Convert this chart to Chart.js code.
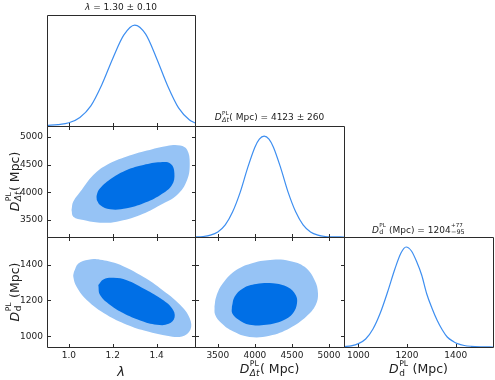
<!DOCTYPE html>
<html><head><meta charset="utf-8">
<script src="https://cdn.jsdelivr.net/npm/chart.js@4.4.1/dist/chart.umd.min.js"></script>
<style>
html,body{margin:0;padding:0;background:#fff;}
#fig{position:relative;width:495px;height:380px;overflow:hidden;}
#fig canvas{position:absolute;left:0;top:0;}
</style></head><body>
<div id="fig"></div>
<script>
// ---------------- data ----------------
const lambdaTicks = [1.0, 1.2, 1.4];
const dtTicks = [3500, 4000, 4500, 5000];
const ddTicks = [1000, 1200, 1400];
const lambdaRange = [0.9, 1.575];
const dtRange = [3192, 5202];
const ddRange = [941, 1553];
const histRange = [0, 1.1];

// 1D marginals
const histLambdaX = [0.90, 0.95, 1.00, 1.05, 1.10, 1.15, 1.20, 1.25, 1.30, 1.35, 1.40, 1.45, 1.50, 1.55, 1.575];
const histLambdaY = [0.006, 0.014, 0.032, 0.085, 0.20, 0.41, 0.67, 0.90, 1.00, 0.91, 0.67, 0.40, 0.18, 0.06, 0.03];
const histDtX = [3192, 3300, 3400, 3500, 3600, 3700, 3800, 3900, 4000, 4060, 4125, 4190, 4250, 4350, 4450, 4550, 4650, 4750, 4850, 4950, 5050, 5202];
const histDtY = [0.001, 0.005, 0.018, 0.05, 0.12, 0.25, 0.44, 0.68, 0.89, 0.97, 1.00, 0.97, 0.89, 0.68, 0.44, 0.25, 0.12, 0.05, 0.018, 0.005, 0.0015, 0.0];
const histDdX = [941, 970, 1000, 1030, 1060, 1090, 1120, 1150, 1175, 1196, 1218, 1240, 1260, 1281, 1302, 1323, 1345, 1365, 1390, 1407, 1435, 1463, 1510, 1553];
const histDdY = [0.004, 0.012, 0.034, 0.08, 0.18, 0.34, 0.55, 0.78, 0.94, 1.00, 0.96, 0.85, 0.72, 0.53, 0.39, 0.27, 0.17, 0.10, 0.055, 0.034, 0.015, 0.007, 0.002, 0.0];

// 2D contours (68% inner, 95% outer)
const lamDtOuter = [[1.012,3681],[1.020,3560],[1.066,3500],[1.142,3452],[1.218,3470],[1.325,3591],[1.417,3772],[1.493,3953],[1.539,4226],[1.551,4528],[1.539,4770],[1.508,4848],[1.447,4842],[1.356,4758],[1.264,4649],[1.172,4498],[1.111,4316],[1.058,4044],[1.020,3833]];
const lamDtInner = [[1.127,3863],[1.142,3772],[1.188,3693],[1.264,3712],[1.340,3802],[1.417,3953],[1.470,4135],[1.481,4347],[1.465,4516],[1.417,4546],[1.340,4498],[1.264,4407],[1.195,4256],[1.142,4074],[1.127,3953]];
const lamDdOuter = [[1.023,1359],[1.043,1405],[1.089,1427],[1.142,1427],[1.218,1405],[1.325,1341],[1.417,1267],[1.508,1175],[1.551,1101],[1.554,1037],[1.516,1000],[1.447,1004],[1.356,1028],[1.264,1065],[1.172,1120],[1.081,1203],[1.035,1276],[1.020,1332]];
const lamDdInner = [[1.134,1286],[1.157,1317],[1.203,1326],[1.264,1313],[1.340,1267],[1.417,1212],[1.470,1157],[1.482,1107],[1.455,1070],[1.401,1065],[1.325,1089],[1.249,1129],[1.188,1175],[1.142,1230]];
const dtDdOuter = [[3455,1166],[3478,1221],[3568,1295],[3748,1369],[3973,1409],[4243,1427],[4469,1420],[4671,1387],[4806,1313],[4851,1240],[4820,1175],[4694,1111],[4469,1046],[4198,1004],[3928,997],[3703,1028],[3546,1074],[3464,1120]];
const dtDdInner = [[3690,1166],[3726,1221],[3838,1267],[4018,1291],[4243,1295],[4446,1273],[4550,1230],[4568,1184],[4514,1129],[4379,1089],[4153,1065],[3928,1065],[3771,1096],[3694,1129]];

// texts
const titleLambda = [{t:'λ', it:true}, {t:' = 1.30 ± 0.10'}];
const titleDt = [{t:'D', it:true}, {sup:'PL', sub:'Δt', subIt:true}, {t:'( Mpc) = 4123 ± 260'}];
const titleDd = [{t:'D', it:true}, {sup:'PL', sub:'d'}, {t:' (Mpc) = 1204'}, {sup:'+77', sub:'−95'}];
const labelLambda = [{t:'λ', it:true}];
const labelDt = [{t:'D', it:true}, {sup:'PL', sub:'Δt', subIt:true}, {t:'( Mpc)'}];
const labelDd = [{t:'D', it:true}, {sup:'PL', sub:'d'}, {t:' (Mpc)'}];

// ---------------- layout / style ----------------
const W = 495, H = 380;
const COLS = [47, 195, 344, 493];
const ROWS = [15, 126, 237, 347];
const C_LINE = '#3d8ef0', C_DARK = '#006fe6', C_LIGHT = '#96c3f5', C_AX = '#2b2b2b', C_TXT = '#222222';
const FAM = '"DejaVu Sans"';
Chart.defaults.font.family = FAM;
Chart.defaults.font.size = 9;
Chart.defaults.color = C_TXT;

const zipXY = (xs, ys) => xs.map((x, i) => ({x: x, y: ys[i]}));
const polyPts = arr => arr.concat([arr[0]]).map(p => ({x: p[0], y: p[1]}));

function F(it, s) { return (it ? 'italic ' : '') + s + 'px ' + FAM; }
function drawRich(ctx, segs, x, y, size) {
  const supS = size * 0.62, subS = size * 0.72;
  const items = segs.map(sg => {
    if (sg.t !== undefined) { ctx.font = F(sg.it, size); return {sg, w: ctx.measureText(sg.t).width}; }
    ctx.font = F(false, supS); const w1 = ctx.measureText(sg.sup).width;
    ctx.font = F(sg.subIt, subS); const w2 = ctx.measureText(sg.sub).width;
    return {sg, w: Math.max(w1, w2) + size * 0.08};
  });
  const total = items.reduce((a, b) => a + b.w, 0);
  let cx = x - total / 2;
  ctx.fillStyle = C_TXT; ctx.textAlign = 'left'; ctx.textBaseline = 'alphabetic';
  items.forEach(({sg, w}) => {
    if (sg.t !== undefined) { ctx.font = F(sg.it, size); ctx.fillText(sg.t, cx, y); }
    else {
      ctx.font = F(false, supS); ctx.fillText(sg.sup, cx + size * 0.04, y - size * 0.58);
      ctx.font = F(sg.subIt, subS); ctx.fillText(sg.sub, cx + size * 0.04, y + size * 0.22);
    }
    cx += w;
  });
}

function framePlugin(p) {
  return {
    id: 'frame',
    afterDraw(chart) {
      const ctx = chart.ctx, a = chart.chartArea;
      const xs = chart.scales.x, ys = chart.scales.y;
      const L = Math.round(a.left) + 0.5, R = Math.round(a.right) + 0.5;
      const T = Math.round(a.top) + 0.5, B = Math.round(a.bottom) + 0.5;
      const tl = 3.5;
      ctx.save();
      ctx.strokeStyle = C_AX; ctx.lineWidth = 1;
      ctx.beginPath();
      ctx.rect(L, T, R - L, B - T);
      p.xt.forEach(v => {
        const px = Math.round(xs.getPixelForValue(v)) + 0.5;
        ctx.moveTo(px, B); ctx.lineTo(px, B - tl);
        if (!p.hist) { ctx.moveTo(px, T); ctx.lineTo(px, T + tl); }
      });
      if (!p.hist) p.yt.forEach(v => {
        const py = Math.round(ys.getPixelForValue(v)) + 0.5;
        ctx.moveTo(L, py); ctx.lineTo(L + tl, py);
        ctx.moveTo(R, py); ctx.lineTo(R - tl, py);
      });
      ctx.stroke();
      if (p.text) p.text(ctx);
      ctx.restore();
    }
  };
}

// axis: when shown, the scale box fills the whole margin so labels are not clipped
function axis(pos, range, ticks, show, fmt, size) {
  return {
    type: 'linear', position: pos, min: range[0], max: range[1], display: show,
    grid: {display: false, drawTicks: false}, border: {display: false},
    ticks: {display: show, padding: pos === 'bottom' ? 3 : 4, autoSkip: false, maxRotation: 0,
            font: {size: 9, family: FAM}, color: C_TXT, callback: v => fmt(v)},
    afterBuildTicks: s => { s.ticks = ticks.map(v => ({value: v})); },
    afterFit: s => { const v = show ? size : 0; if (pos === 'bottom') s.height = v; else s.width = v; }
  };
}

const fmt1 = v => Number(v).toFixed(1);
const fmt0 = v => String(Math.round(v));

function histSet(data) {
  return {data, showLine: true, borderColor: C_LINE, borderWidth: 1.2, pointRadius: 0,
          cubicInterpolationMode: 'monotone', fill: false};
}
function contSets(inner, outer) {
  return [
    {data: polyPts(inner), showLine: true, borderWidth: 0, borderColor: 'rgba(0,0,0,0)', backgroundColor: C_DARK, fill: 'shape', pointRadius: 0, tension: 0.4},
    {data: polyPts(outer), showLine: true, borderWidth: 0, borderColor: 'rgba(0,0,0,0)', backgroundColor: C_LIGHT, fill: 'shape', pointRadius: 0, tension: 0.4}
  ];
}

const panels = [
  {c: 0, r: 0, hist: true, xr: lambdaRange, yr: histRange, xt: lambdaTicks, yt: [], xs: false, ysh: false, xf: fmt1, yf: fmt0,
   ds: [histSet(zipXY(histLambdaX, histLambdaY))]},
  {c: 0, r: 1, hist: false, xr: lambdaRange, yr: dtRange, xt: lambdaTicks, yt: dtTicks, xs: false, ysh: true, xf: fmt1, yf: fmt0,
   ds: contSets(lamDtInner, lamDtOuter)},
  {c: 1, r: 1, hist: true, xr: dtRange, yr: histRange, xt: dtTicks, yt: [], xs: false, ysh: false, xf: fmt0, yf: fmt0,
   ds: [histSet(zipXY(histDtX, histDtY))]},
  {c: 0, r: 2, hist: false, xr: lambdaRange, yr: ddRange, xt: lambdaTicks, yt: ddTicks, xs: true, ysh: true, xf: fmt1, yf: fmt0,
   ds: contSets(lamDdInner, lamDdOuter)},
  {c: 1, r: 2, hist: false, xr: dtRange, yr: ddRange, xt: dtTicks, yt: ddTicks, xs: true, ysh: false, xf: fmt0, yf: fmt0,
   ds: contSets(dtDdInner, dtDdOuter)},
  {c: 2, r: 2, hist: true, xr: ddRange, yr: histRange, xt: ddTicks, yt: [], xs: true, ysh: false, xf: fmt0, yf: fmt0,
   ds: [histSet(zipXY(histDdX, histDdY))],
   text: ctx => {
     const mid = i => (COLS[i] + COLS[i + 1]) / 2;
     drawRich(ctx, titleLambda, mid(0), 9.5, 9);
     drawRich(ctx, titleDt, mid(1), 120, 9);
     drawRich(ctx, titleDd, mid(2), 232.5, 9);
     drawRich(ctx, labelLambda, mid(0), 375.5, 13);
     drawRich(ctx, labelDt, mid(1), 373, 12.5);
     drawRich(ctx, labelDd, mid(2), 373, 12.5);
     ctx.save(); ctx.translate(18.5, (ROWS[1] + ROWS[2]) / 2); ctx.rotate(-Math.PI / 2);
     drawRich(ctx, labelDt, 0, 0, 12.5); ctx.restore();
     ctx.save(); ctx.translate(18.5, (ROWS[2] + ROWS[3]) / 2); ctx.rotate(-Math.PI / 2);
     drawRich(ctx, labelDd, 0, 0, 12.5); ctx.restore();
   }}
];

const fig = document.getElementById('fig');
panels.forEach(p => {
  const cv = document.createElement('canvas');
  cv.width = W; cv.height = H; cv.style.width = W + 'px'; cv.style.height = H + 'px';
  fig.appendChild(cv);
  const leftM = COLS[p.c], bottomM = H - ROWS[p.r + 1];
  new Chart(cv, {
    type: 'scatter',
    data: {datasets: p.ds},
    options: {
      responsive: false, animation: false, events: [], devicePixelRatio: 1,
      layout: {padding: {left: p.ysh ? 0 : leftM, right: W - COLS[p.c + 1], top: ROWS[p.r], bottom: p.xs ? 0 : bottomM}},
      plugins: {legend: {display: false}, tooltip: {enabled: false}, title: {display: false}},
      scales: {
        x: axis('bottom', p.xr, p.xt, p.xs, p.xf, bottomM),
        y: axis('left', p.yr, p.yt, p.ysh, p.yf, leftM)
      }
    },
    plugins: [framePlugin(p)]
  });
});
</script>
</body></html>
